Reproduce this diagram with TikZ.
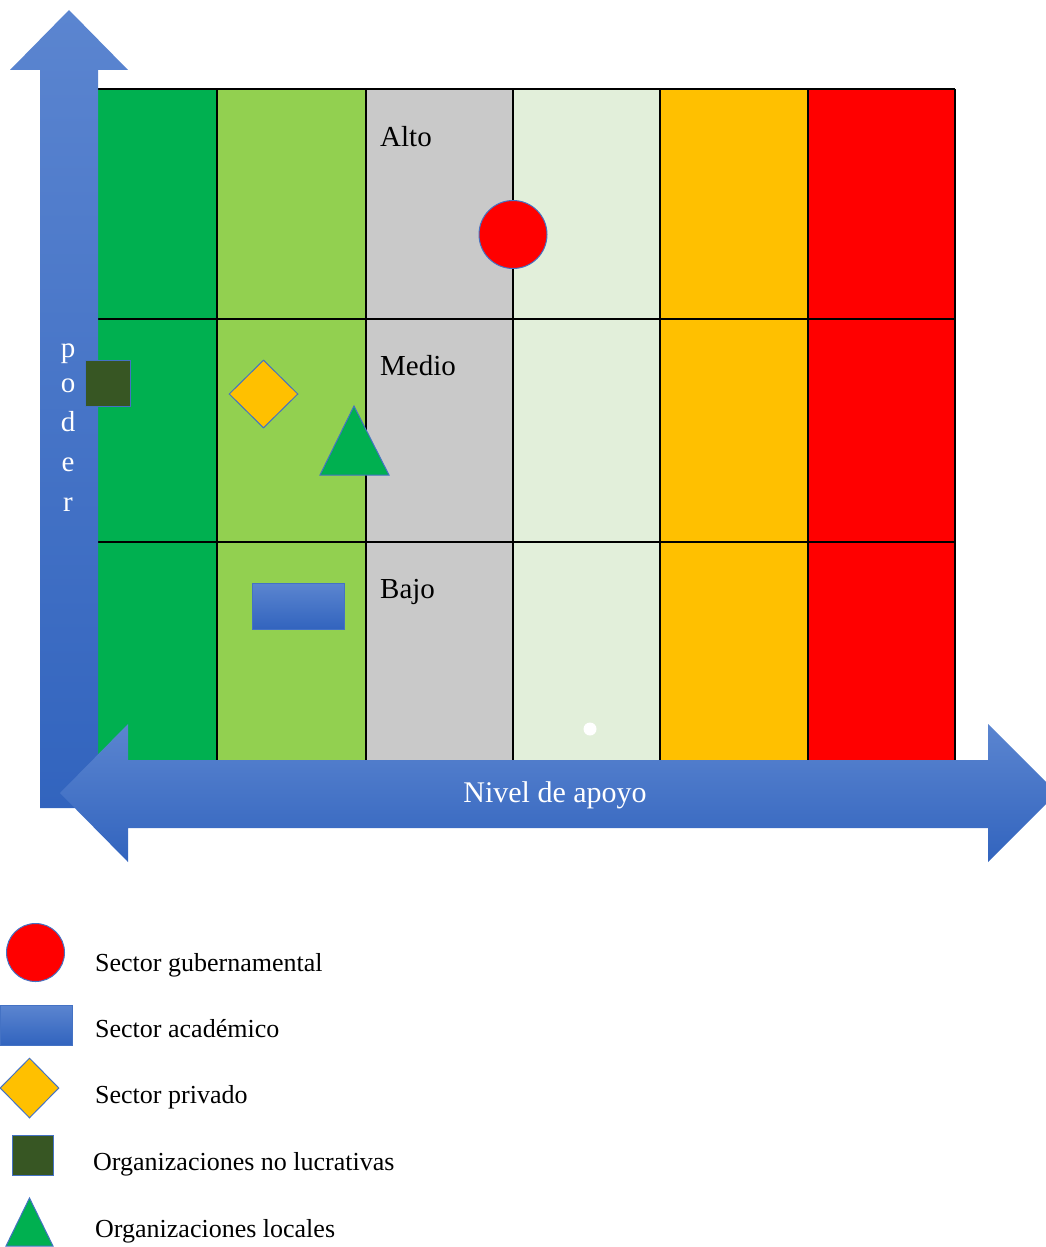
\documentclass[tikz,border=0pt]{standalone}
\usepackage{fontspec}
\setmainfont{Liberation Serif}
\usetikzlibrary{shapes.geometric}
\definecolor{cgreen}{HTML}{00B050}
\definecolor{clime}{HTML}{92D050}
\definecolor{cgray}{HTML}{C9C9C9}
\definecolor{cpale}{HTML}{E2EFDA}
\definecolor{cgold}{HTML}{FFC000}
\definecolor{cred}{HTML}{FF0000}
\definecolor{cdark}{HTML}{375623}
\definecolor{cedge}{HTML}{4472C4}
\definecolor{arrtop}{HTML}{5B85D0}
\definecolor{arrbot}{HTML}{3264BE}
\begin{document}
\begin{tikzpicture}[x=1pt,y=-1pt,
  gridline/.style={black,line width=1.5pt},
  marker/.style={draw=cedge,line width=1pt},
  bluearrow/.style={top color=arrtop,bottom color=arrbot,draw=none},
  bluebox/.style={marker,top color=arrtop,bottom color=arrbot},
  zonelabel/.style={anchor=base west,font=\fontsize{29}{32}\selectfont,inner sep=0pt},
  axislabel/.style={anchor=base,text=white,font=\fontsize{29}{31}\selectfont,inner sep=0pt},
  legendtext/.style={anchor=base west,font=\fontsize{26}{28}\selectfont,inner sep=0pt}]
\clip (0,0) rectangle (1046,1247);
% columns
\fill[cgreen] (98,89) rectangle (217,760);
\fill[clime] (217,89) rectangle (366,760);
\fill[cgray] (366,89) rectangle (513,760);
\fill[cpale] (513,89) rectangle (660,760);
\fill[cgold] (660,89) rectangle (808,760);
\fill[cred] (808,89) rectangle (955,760);
% grid lines
\foreach \xx in {217,366,513,660,808,955} \draw[gridline] (\xx,89) -- (\xx,760);
\foreach \yy in {89,319,542} \draw[gridline] (98,\yy) -- (955,\yy);
% vertical arrow
\path[bluearrow] (40,808) -- (40,70) -- (10,70) -- (69,10) -- (128,70) -- (98,70) -- (98,808) -- cycle;
\node[axislabel] (lp) at (68,357) {p};
\node[axislabel] (lo) at (68,392) {o};
\node[axislabel] (ld) at (68,431) {d};
\node[axislabel] (le) at (68,471) {e};
\node[axislabel] (lr) at (68,511) {r};
% zone labels
\node[zonelabel] (alto) at (380,146) {Alto};
\node[zonelabel] (medio) at (380,375) {Medio};
\node[zonelabel] (bajo) at (380,598) {Bajo};
% markers in grid
\node[marker,circle,fill=cred,minimum size=68pt,inner sep=0pt] (gov) at (513,234.5) {};
\node[marker,fill=cdark,minimum width=45pt,minimum height=46pt,inner sep=0pt] (nonprofit) at (107.5,383) {};
\node[marker,diamond,fill=cgold,minimum width=69pt,minimum height=68pt,inner sep=0pt] (private) at (263.5,394) {};
\path[marker,fill=cgreen] (354,406) -- (389,475) -- (320,475) -- cycle;
\node[bluebox,minimum width=92pt,minimum height=46pt,inner sep=0pt] (academic) at (298,606) {};
\fill[white] (590,729) circle (6.5pt);
% horizontal arrow
\path[bluearrow] (60,793) -- (128,724) -- (128,760) -- (988,760) -- (988,724) -- (1057,793) -- (988,862) -- (988,828) -- (128,828) -- (128,862) -- cycle;
\node[axislabel,font=\fontsize{30}{32}\selectfont] (nivel) at (555,802) {Nivel de apoyo};
% legend
\node[marker,circle,fill=cred,minimum size=58pt,inner sep=0pt] (lgov) at (35.5,952.5) {};
\node[bluebox,minimum width=72pt,minimum height=40pt,inner sep=0pt] (lacad) at (36,1025) {};
\node[marker,diamond,fill=cgold,minimum width=59pt,minimum height=60pt,inner sep=0pt] (lpriv) at (29.5,1088) {};
\node[marker,fill=cdark,minimum width=41pt,minimum height=40pt,inner sep=0pt] (lnon) at (32.5,1155) {};
\path[marker,fill=cgreen] (29.5,1198) -- (53,1246) -- (6,1246) -- cycle;
\node[legendtext] (t1) at (95,971) {Sector gubernamental};
\node[legendtext] (t2) at (95,1037) {Sector académico};
\node[legendtext] (t3) at (95,1103) {Sector privado};
\node[legendtext] (t4) at (93,1170) {Organizaciones no lucrativas};
\node[legendtext] (t5) at (95,1237) {Organizaciones locales};
\end{tikzpicture}
\end{document}
